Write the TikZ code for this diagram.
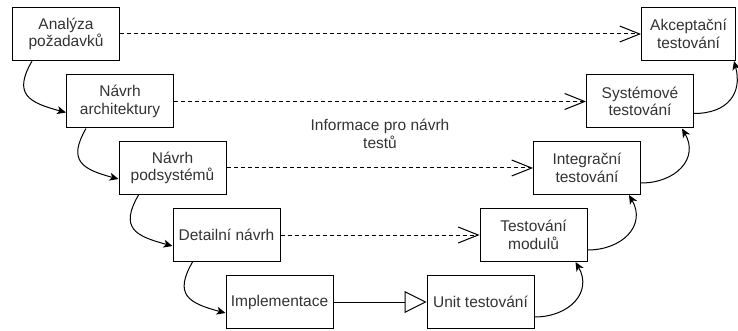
\documentclass[tikz,border=0pt]{standalone}
\usepackage{fontspec}
\setmainfont{Liberation Sans}
\usetikzlibrary{arrows.meta}
\definecolor{txtgray}{HTML}{333333}

\begin{document}
\begin{tikzpicture}[x=1pt, y=1pt, line width=1pt, font=\fontsize{15.5}{17.5}\selectfont]
      \tikzset{
	  phase/.style={rectangle, draw=black, fill=white, line width=1pt, minimum width=107pt, minimum height=53pt, inner sep=2pt, align=center, text=txtgray},
	  flow/.style={-{Stealth[length=9pt,width=8pt,inset=2.5pt]}, black},
	  plan/.style={dash pattern=on 4pt off 3pt, -{Straight Barb[length=20pt,width=16pt]}},
	  handover/.style={-{Triangle[open,length=22pt,width=22pt]}}
      }
      \useasboundingbox (0,0) rectangle (738,-331);
      \clip (0,0) rectangle (738,-331);

      \node at (66, -34) [phase] (ana) {Analýza\\požadavků};
      \node at (120, -101.5) [phase] (arch) {Návrh\\architektury};
      \node at (172.5, -168) [phase] (podsys) {Návrh\\podsystémů};
      \node at (226.5, -235) [phase] (detail) {Detailní návrh};
      \node at (279.5, -302) [phase] (implem) {Implementace};

      \node at (480.5, -302) [phase] (unit) {Unit testování};
      \node at (533.5, -235) [phase] (modul) {Testování\\modulů};
      \node at (587, -168) [phase] (integ) {Integrační\\testování};
      \node at (640, -101.5) [phase] (sys) {Systémové\\testování};
      \node at (688.5, -34) [phase, minimum width=94pt] (akc) {Akceptační\\testování};

      \node at (380, -134) [align=center, text=txtgray] (info) {Informace pro návrh\\testů};

      \draw [plan] (ana.east) -- (akc.west);
      \draw [plan] (arch.east) -- (sys.west);
      \draw [plan] (podsys.east) -- (integ.west);
      \draw [plan] (detail.east) -- (modul.west);
      \draw [handover] (implem.east) -- (unit.west);

      \draw [flow] ([xshift=20pt]ana.south west) to[out=-120, in=165, looseness=1.6] ([yshift=-11pt]arch.west);
      \draw [flow] ([xshift=20pt]arch.south west) to[out=-120, in=165, looseness=1.6] ([yshift=-11pt]podsys.west);
      \draw [flow] ([xshift=20pt]podsys.south west) to[out=-120, in=165, looseness=1.6] ([yshift=-11pt]detail.west);
      \draw [flow] ([xshift=20pt]detail.south west) to[out=-120, in=165, looseness=1.6] ([yshift=-11pt]implem.west);

      \draw [flow] ([yshift=-15pt]unit.east) to[out=0, in=-60, looseness=1.3] ([xshift=-12pt]modul.south east);
      \draw [flow] ([yshift=-15pt]modul.east) to[out=0, in=-60, looseness=1.3] ([xshift=-12pt]integ.south east);
      \draw [flow] ([yshift=-15pt]integ.east) to[out=0, in=-60, looseness=1.3] ([xshift=-12pt]sys.south east);
      \draw [flow] ([yshift=-12pt]sys.east) to[out=0, in=-75, looseness=1.3] ([xshift=-2pt]akc.south east);
\end{tikzpicture}
\end{document}
